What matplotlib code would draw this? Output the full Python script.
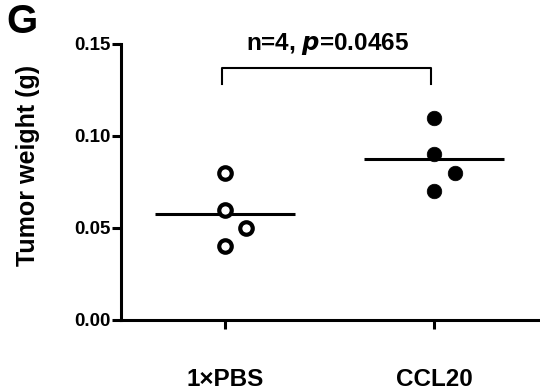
import matplotlib
matplotlib.use("Agg")
import matplotlib.pyplot as plt
import numpy as np

plt.rcParams['font.family'] = ['Liberation Sans', 'DejaVu Sans']
plt.rcParams['font.weight'] = 'bold'

categories = ["1\u00d7PBS", "CCL20"]
pbs_values = [0.08, 0.06, 0.05, 0.04]
pbs_offsets = [0.0, 0.0, 0.1, 0.0]
ccl20_values = [0.11, 0.09, 0.08, 0.07]
ccl20_offsets = [0.0, 0.0, 0.1, 0.0]
y_ticks = [0.00, 0.05, 0.10, 0.15]
annotation = "n=4, $\\boldsymbol{p}$=0.0465"

fig = plt.figure(figsize=(5.4, 3.91), dpi=100)
ax = fig.add_axes([0.224, 0.1816, 0.776, 0.7059])

lw = 2.2
ax.plot(np.array(pbs_offsets) + 0, pbs_values, 'o', ms=9, mfc='white', mec='black', mew=3.0, ls='none', zorder=3)
ax.plot(np.array(ccl20_offsets) + 1, ccl20_values, 'o', ms=10.5, mfc='black', mec='black', mew=0.5, ls='none', zorder=3)
for i, vals in enumerate([pbs_values, ccl20_values]):
    m = np.mean(vals)
    ax.plot([i - 0.335, i + 0.335], [m, m], color='black', lw=lw, solid_capstyle='butt', zorder=2)

ax.set_xlim(-0.4976, 1.507)
ax.set_ylim(0, 0.15)
ax.set_yticks(y_ticks)
ax.set_yticklabels([f"{v:.2f}" for v in y_ticks], fontsize=13.5, fontweight='bold')
ax.set_xticks([0, 1])
ax.set_xticklabels(categories, fontsize=17.5, fontweight='bold')
ax.tick_params(axis='y', length=6.5, width=lw, pad=1)
ax.tick_params(axis='x', length=6.5, width=lw, pad=28)
for s in ['top', 'right']:
    ax.spines[s].set_visible(False)
for s in ['left', 'bottom']:
    ax.spines[s].set_linewidth(lw)

fig.text(28 / 540, 1 - 165 / 391, "Tumor weight (g)", rotation=90, fontsize=18,
         fontweight='bold', ha='center', va='center')

# significance bracket
y_br = 0.15 - (68 - 44) / 1840
y_low = y_br - 16 / 1840
ax.plot([-0.015, -0.015, 0.985, 0.985], [y_low, y_br, y_br, y_low], color='black', lw=1.5, clip_on=False)
ax.text(0.49, 0.15, annotation, ha='center', va='center', fontsize=17.5, fontweight='bold', clip_on=False)

fig.text(22 / 540, 1 - 22 / 391, "G", fontsize=29, fontweight='bold', ha='center', va='center')

fig.savefig("out.png", dpi=100)
